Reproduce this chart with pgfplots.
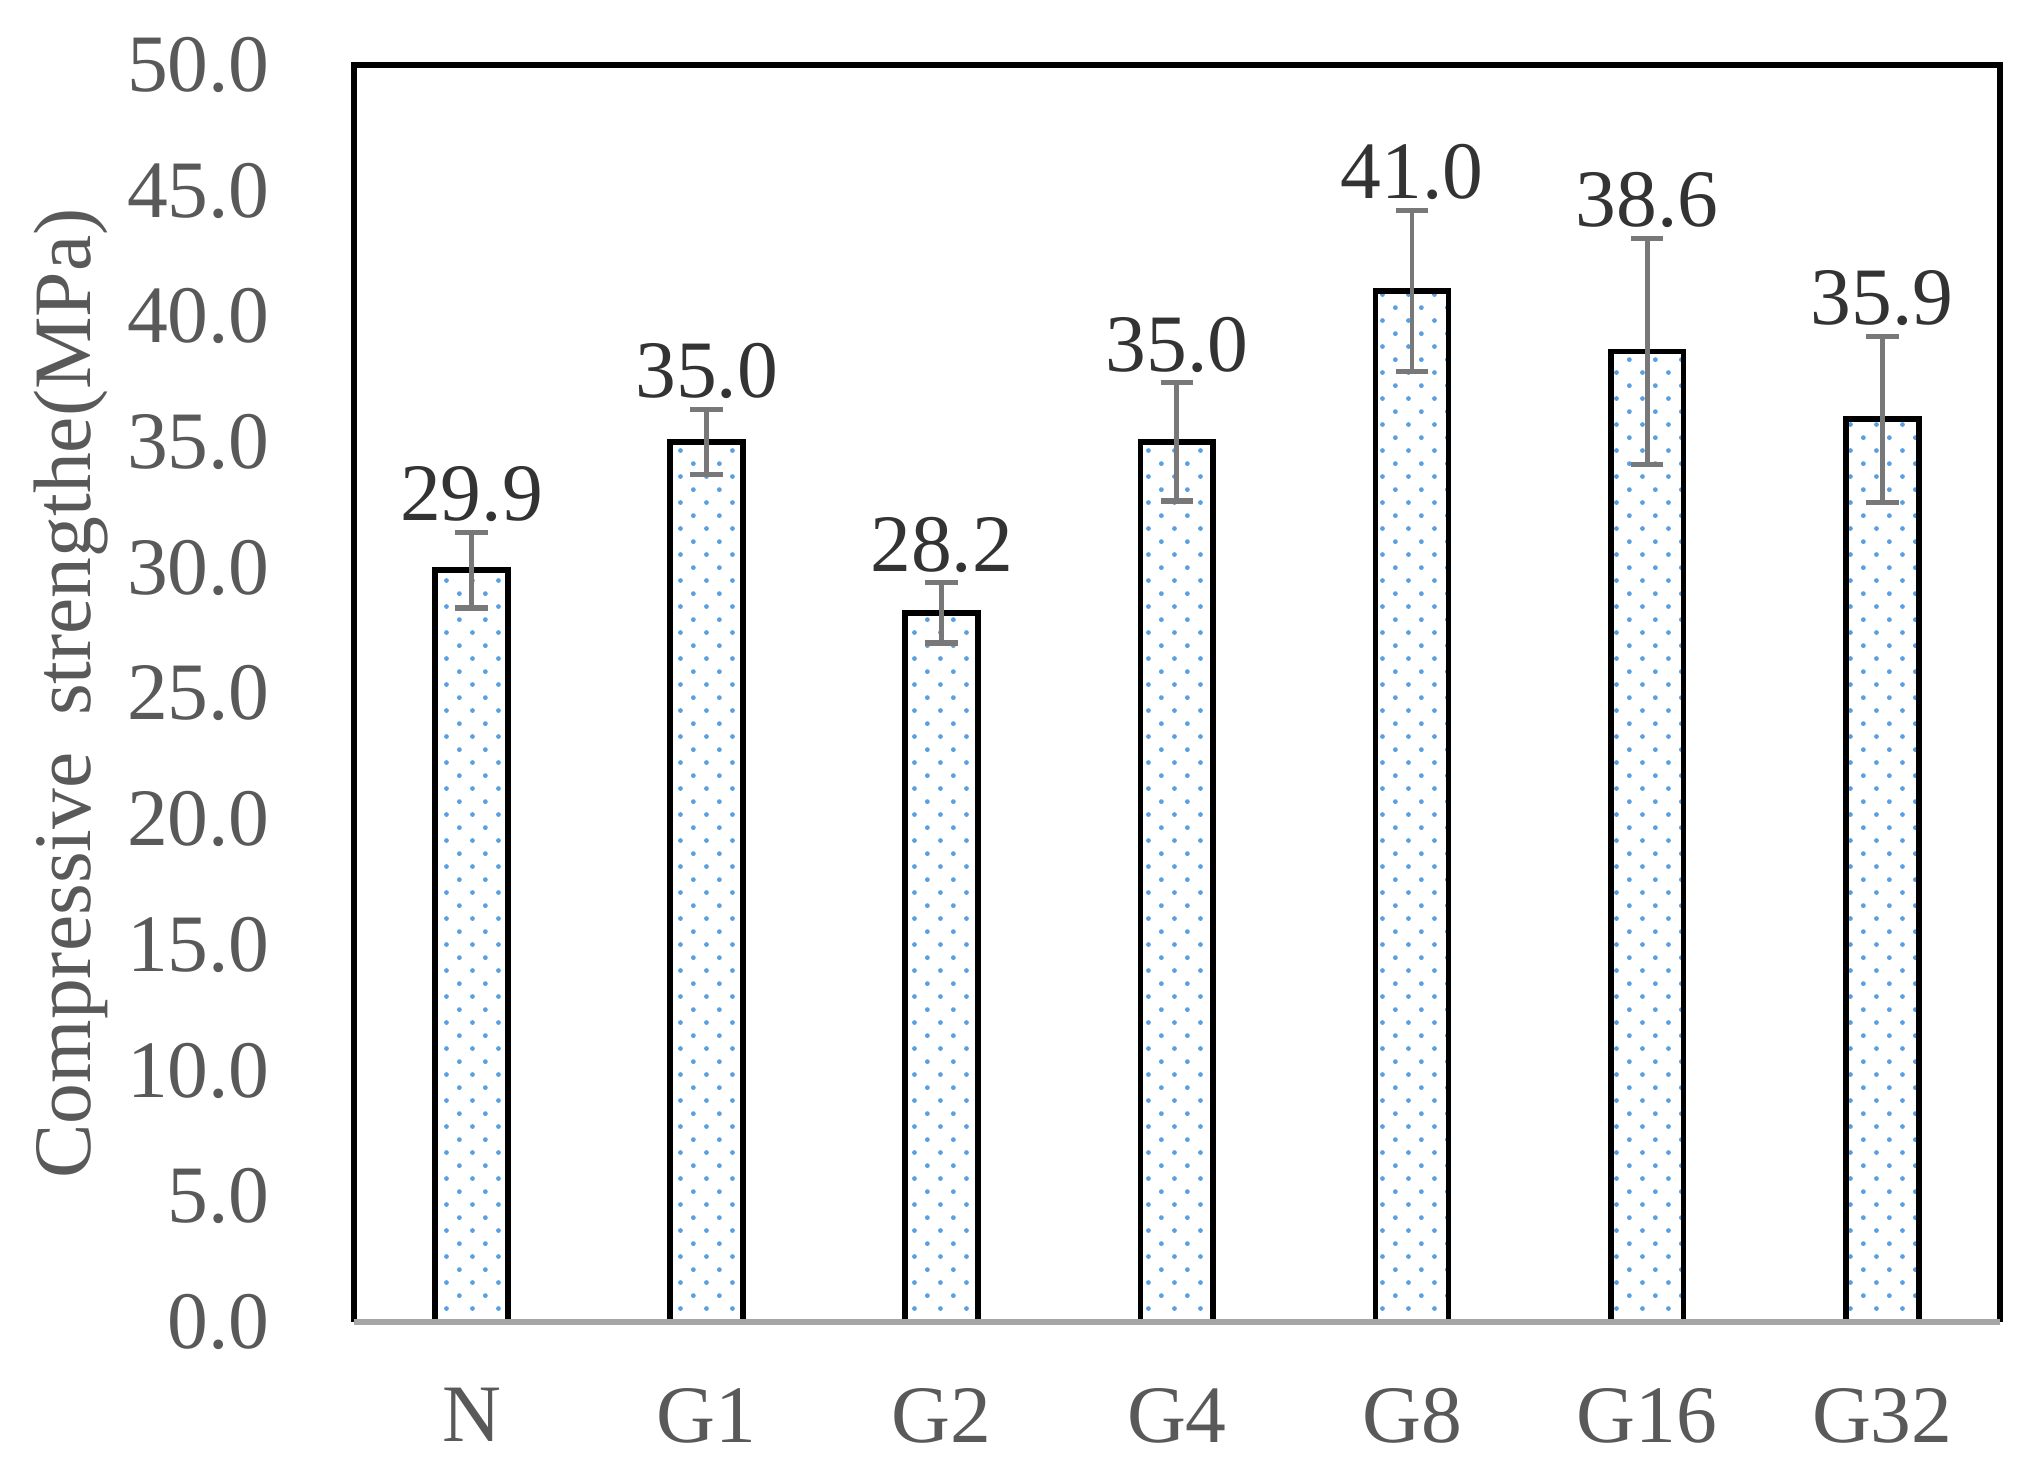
\documentclass[border=0pt]{standalone}
\usepackage{fontspec}
\setmainfont{Liberation Serif}
\usepackage{pgfplots}
\usepackage{pgfplotstable}
\pgfplotsset{compat=1.18}
\usetikzlibrary{patterns.meta}

\definecolor{txtgray}{RGB}{89,89,89}
\definecolor{errgray}{RGB}{120,120,120}
\definecolor{dotblue}{RGB}{90,160,225}

% sparse staggered dots, like the Excel fill
\tikzdeclarepattern{
  name=sparsedots,
  type=uncolored,
  bottom left={(0pt,0pt)},
  top right={(5.4pt,5.4pt)},
  tile size={(5.4pt,5.4pt)},
  code={
    \fill (1.35pt,1.35pt) circle (0.5pt);
    \fill (4.05pt,4.05pt) circle (0.5pt);
  }
}

% x  strength  error  top of error bar
\pgfplotstableread{
x y   err  top
0 29.9 1.5  31.4
1 35.0 1.3  36.3
2 28.2 1.2  29.4
3 35.0 2.35 37.35
4 41.0 3.2  44.2
5 38.6 4.5  43.1
6 35.9 3.3  39.2
}\strength

\newcommand{\fs}{\fontsize{17}{20}\selectfont}

\begin{document}
\begin{tikzpicture}
\begin{axis}[
    name=ax,
    scale only axis,
    width=343pt, height=262pt,
    xmin=-0.5, xmax=6.5,
    ymin=0, ymax=50,
    xtick={0,...,6},
    xticklabels={N,G1,G2,G4,G8,G16,G32},
    ytick={0,5,...,50},
    /pgf/number format/assume math mode=true,
    yticklabel style={/pgf/number format/fixed, /pgf/number format/fixed zerofill,
                      /pgf/number format/precision=1, xshift=-14pt},
    major tick length=0pt,
    axis line style={draw=none},
    tick label style={font=\fs, text=txtgray},
    xticklabel style={yshift=-10.3pt},
    ylabel={Compressive\hspace{0.45em}strengthe(MPa)},
    ylabel style={font=\fs, text=txtgray, at={(axis description cs:-0.172,0.5)},
                  anchor=center},
    clip=false,
]

% bars with error bars
\addplot[ybar, bar width=15.2pt, bar shift=0pt, draw=black, line width=1.2pt,
         pattern={sparsedots}, pattern color=dotblue,
         error bars/.cd, y dir=both, y explicit,
         error bar style={errgray, line width=1pt},
         error mark options={rotate=90, mark size=3.4pt, errgray, line width=1.1pt}]
    table[x=x, y=y, y error=err] {\strength};

% value labels above the error bars
\addplot[draw=none, mark=none, point meta=explicit,
         nodes near coords={\pgfmathprintnumber[fixed,fixed zerofill,precision=1]{\pgfplotspointmeta}},
         nodes near coords style={font=\fs, text=black!80, anchor=south, inner sep=2pt}]
    table[x=x, y=top, meta=y] {\strength};

% frame: black on three sides, grey base line
\draw[black, line width=1.2pt] (rel axis cs:0,0) -- (rel axis cs:0,1)
    -- (rel axis cs:1,1) -- (rel axis cs:1,0);
\draw[black!35, line width=1.1pt] (rel axis cs:0,0) -- (rel axis cs:1,0);
\end{axis}
\path ([xshift=-73.75pt,yshift=-30.8pt]ax.south west)
    rectangle ([xshift=9pt,yshift=13.5pt]ax.north east);
\end{tikzpicture}
\end{document}
